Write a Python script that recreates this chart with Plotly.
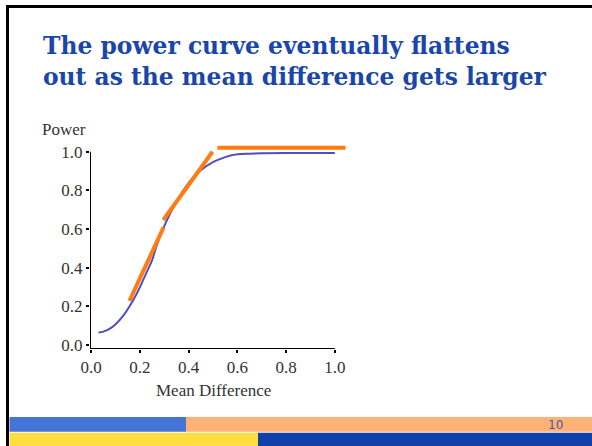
import plotly.graph_objects as go

# power curve
mean_diff = [0.03, 0.05, 0.08, 0.10, 0.13, 0.157, 0.18, 0.20, 0.225, 0.25, 0.27, 0.293,
             0.32, 0.35, 0.389, 0.42, 0.45, 0.498, 0.55, 0.58, 0.65, 0.70, 0.80, 0.90, 1.00]
power = [0.065, 0.07, 0.088, 0.108, 0.15, 0.20, 0.25, 0.30, 0.37, 0.44, 0.52, 0.595,
         0.67, 0.74, 0.82, 0.87, 0.905, 0.945, 0.972, 0.983, 0.99, 0.992, 0.993, 0.993, 0.993]

# orange hand-drawn trend segments (None separates segments)
seg_x = [0.157, 0.297, None, 0.296, 0.498, None, 0.518, 1.044]
seg_y = [0.229, 0.609, None, 0.647, 1.0, None, 1.02, 1.02]

tick_vals = [0.0, 0.2, 0.4, 0.6, 0.8, 1.0]
tick_text = ["0.0", "0.2", "0.4", "0.6", "0.8", "1.0"]

W, H = 592, 446
L, R, T, B = 90, 347, 144, 349
XR = [-0.005, 1.05]
YR = [-0.02, 1.04]


def px(x):
    return (x - L) / (R - L)


def py(y):
    return (B - y) / (B - T)


fig = go.Figure()

fig.add_trace(go.Scatter(
    x=mean_diff, y=power, mode="lines",
    line=dict(color="#4d4dc6", width=2, shape="spline", smoothing=1.0),
    hoverinfo="skip",
))
fig.add_trace(go.Scatter(
    x=seg_x, y=seg_y, mode="lines",
    line=dict(color="#ff7c12", width=4),
    hoverinfo="skip",
))

shapes = []
# axis lines (only up to 1.0)
shapes.append(dict(type="line", xref="x", yref="y", x0=XR[0], x1=1.0, y0=YR[0], y1=YR[0],
                   line=dict(color="black", width=2)))
shapes.append(dict(type="line", xref="x", yref="y", x0=XR[0], x1=XR[0], y0=YR[0], y1=1.0,
                   line=dict(color="black", width=2)))
# slide border
shapes.append(dict(type="rect", xref="paper", yref="paper", x0=px(6), x1=px(600),
                   y0=py(8), y1=py(5), line=dict(width=0), fillcolor="black", layer="above"))
shapes.append(dict(type="rect", xref="paper", yref="paper", x0=px(6), x1=px(9),
                   y0=py(450), y1=py(5), line=dict(width=0), fillcolor="black", layer="above"))
# footer bars
footer = [
    (9.5, 186, 417, 431.7, "#4673d6"),
    (186, 600, 417, 431.7, "#ffb176"),
    (9.5, 258, 432.7, 450, "#ffdd3d"),
    (258, 600, 432.7, 450, "#1240aa"),
]
for x0, x1, y0, y1, c in footer:
    shapes.append(dict(type="rect", xref="paper", yref="paper", x0=px(x0), x1=px(x1),
                       y0=py(y1), y1=py(y0), line=dict(width=0), fillcolor=c, layer="below"))

serif = "Liberation Serif, Times New Roman, serif"
title_font = "DejaVu Serif, Georgia, serif"
annotations = [
    dict(text="<b>The power curve eventually flattens</b>", x=px(41), y=py(45.5),
         xanchor="left", yanchor="middle"),
    dict(text="<b>out as the mean difference gets larger</b>", x=px(41), y=py(77),
         xanchor="left", yanchor="middle"),
    dict(text="Power", x=px(64), y=py(129), xanchor="center", yanchor="middle"),
    dict(text="Mean Difference", x=px(213), y=py(390), xanchor="center", yanchor="middle"),
    dict(text="10", x=px(555), y=py(425), xanchor="center", yanchor="middle"),
]
fonts = [
    dict(family=title_font, size=23.4, color="#1a46ab"),
    dict(family=title_font, size=23.4, color="#1a46ab"),
    dict(family=serif, size=17, color="#333333"),
    dict(family=serif, size=17, color="#333333"),
    dict(family="DejaVu Sans", size=12, color="#4258a8"),
]
for a, f in zip(annotations, fonts):
    a.update(xref="paper", yref="paper", showarrow=False, font=f)

axis_common = dict(
    showgrid=False, zeroline=False, showline=False,
    ticks="outside", ticklen=3, tickwidth=1.5, tickcolor="black",
    tickvals=tick_vals, ticktext=tick_text,
    tickfont=dict(family=serif, size=17, color="#333333"),
)

fig.update_layout(
    width=W, height=H,
    margin=dict(l=L, r=W - R, t=T, b=H - B),
    paper_bgcolor="white", plot_bgcolor="white",
    showlegend=False,
    xaxis=dict(range=XR, **axis_common),
    yaxis=dict(range=YR, **axis_common),
    shapes=shapes,
    annotations=annotations,
)

fig.write_html("out.html", config={"displayModeBar": False},
               post_script="document.body.style.margin='0';")
